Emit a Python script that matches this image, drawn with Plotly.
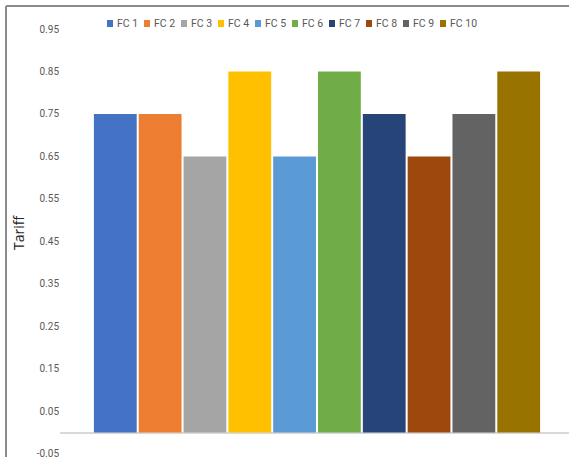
import plotly.graph_objects as go

# Series names, tariff values and Office-style colours
series = ["FC 1", "FC 2", "FC 3", "FC 4", "FC 5", "FC 6", "FC 7", "FC 8", "FC 9", "FC 10"]
tariff = [0.75, 0.75, 0.65, 0.85, 0.65, 0.85, 0.75, 0.65, 0.75, 0.85]
colors = ["#4472C4", "#ED7D31", "#A5A5A5", "#FFC000", "#5B9BD5",
          "#70AD47", "#264478", "#9E480E", "#636363", "#997300"]
y_ticks = [-0.05, 0.05, 0.15, 0.25, 0.35, 0.45, 0.55, 0.65, 0.75, 0.85, 0.95]
category = [""]

W, H = 569, 457
ML, MR, MT, MB = 60, 0, 29, 3
plot_w = W - ML - MR
plot_h = H - MT - MB

fig = go.Figure()
for name, val, col in zip(series, tariff, colors):
    fig.add_trace(go.Bar(
        x=category, y=[val], name=name,
        marker=dict(color=col, line=dict(width=0)),
        showlegend=False,
    ))

tick_font = dict(family="Liberation Sans Narrow, Arial Narrow, Roboto, sans-serif",
                 size=10, color="#595959")
legend_font = dict(family="Liberation Sans Narrow, Arial Narrow, Roboto, sans-serif",
                   size=10.5, color="#595959")

# Hand-built horizontal legend row along the top
legend_x0 = 107
legend_step = 37
shapes = []
annotations = []
for i, (name, col) in enumerate(zip(series, colors)):
    px = legend_x0 + i * legend_step
    x0 = (px - ML) / plot_w
    x1 = (px + 6 - ML) / plot_w
    y0 = (plot_h - (27 - MT)) / plot_h
    y1 = (plot_h - (20 - MT)) / plot_h
    shapes.append(dict(type="rect", xref="paper", yref="paper",
                       x0=x0, x1=x1, y0=y0, y1=y1,
                       fillcolor=col, line=dict(width=0)))
    annotations.append(dict(xref="paper", yref="paper",
                            x=(px + 8 - ML) / plot_w, y=(plot_h - (23.5 - MT)) / plot_h,
                            text=name, showarrow=False, xanchor="left", yanchor="middle",
                            font=legend_font))

# Outer frame (top and left edges)
fx = (6 - ML) / plot_w
fy = (plot_h - (6 - MT)) / plot_h
shapes.append(dict(type="line", xref="paper", yref="paper",
                   x0=fx, x1=1.05, y0=fy, y1=fy,
                   line=dict(color="#8c8c8c", width=2)))
shapes.append(dict(type="line", xref="paper", yref="paper",
                   x0=fx, x1=fx, y0=fy, y1=-0.05,
                   line=dict(color="#8c8c8c", width=2)))

# Rotated axis title placed left of the tick labels
annotations.append(dict(xref="paper", yref="paper",
                        x=(18 - ML) / plot_w, y=(plot_h - (232 - MT)) / plot_h,
                        text="Tariff", showarrow=False, textangle=-90,
                        xanchor="center", yanchor="middle",
                        font=dict(family="Open Sans, sans-serif", size=14, color="#262626")))

fig.update_layout(
    width=W, height=H,
    margin=dict(l=ML, r=MR, t=MT, b=MB, autoexpand=False),
    paper_bgcolor="white", plot_bgcolor="white",
    barmode="group", bargap=0.128, bargroupgap=0.045,
    showlegend=False,
    xaxis=dict(range=[-0.5, 0.5 - (1 - plot_w / 514)], showticklabels=False,
               showgrid=False, zeroline=False, showline=False, ticks="",
               automargin=False),
    yaxis=dict(range=[-0.0505, 0.95], tickvals=y_ticks,
               ticktext=[f"{v:.2f}" for v in y_ticks],
               tickfont=tick_font, showgrid=False, ticks="",
               ticklabeloverflow="allow", automargin=False,
               zeroline=True, zerolinecolor="#d9d9d9", zerolinewidth=1.5,
               showline=False),
    shapes=shapes,
    annotations=annotations,
)

fig.write_html("out.html")
